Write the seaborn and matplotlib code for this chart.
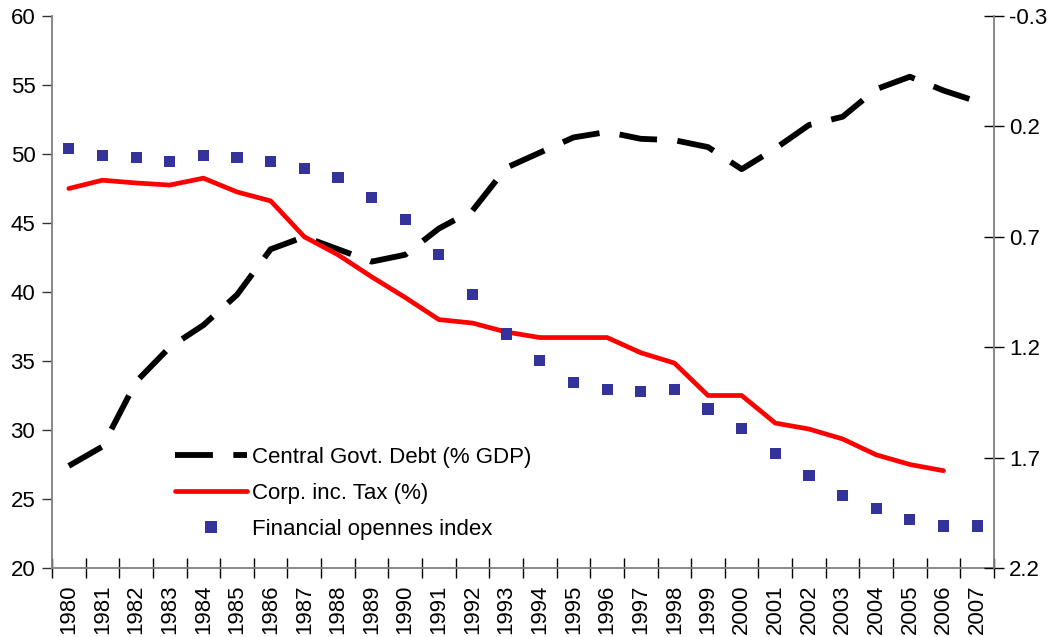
import numpy as np
import pandas as pd
import matplotlib
matplotlib.use("Agg")
import matplotlib.pyplot as plt
import seaborn as sns
from matplotlib.lines import Line2D

years = list(range(1980, 2008))
debt = [27.4, 28.8, 33.5, 36.0, 37.6, 39.8, 43.1, 44.0, 43.1, 42.2, 42.7, 44.6, 45.9,
        49.0, 50.1, 51.2, 51.6, 51.1, 51.0, 50.5, 48.9, 50.4, 52.1, 52.7, 54.7, 55.6,
        54.6, 53.8]
tax = [47.5, 48.1, 47.9, 47.75, 48.25, 47.25, 46.6, 44.0, 42.7, 41.1, 39.6, 38.0, 37.75,
       37.1, 36.7, 36.7, 36.7, 35.6, 34.85, 32.5, 32.5, 30.5, 30.07, 29.35, 28.2, 27.5,
       27.05, np.nan]
openness = [0.30, 0.33, 0.34, 0.36, 0.33, 0.34, 0.36, 0.39, 0.43, 0.52, 0.62, 0.78, 0.96,
            1.14, 1.26, 1.36, 1.39, 1.40, 1.39, 1.48, 1.57, 1.68, 1.78, 1.87, 1.93, 1.98,
            2.01, 2.01]
left_ticks = [20, 25, 30, 35, 40, 45, 50, 55, 60]
right_ticks = [-0.3, 0.2, 0.7, 1.2, 1.7, 2.2]

labels = ["Central Govt. Debt (% GDP)", "Corp. inc. Tax (%)", "Financial opennes index"]

sns.set_style("white")
plt.rcParams['font.family'] = ['Liberation Sans', 'DejaVu Sans']
plt.rcParams['axes.unicode_minus'] = False
plt.rcParams['text.color'] = 'black'

FS = 16

df = pd.DataFrame({"pos": np.arange(len(years)), "year": years, "debt": debt,
                   "tax": tax, "open": openness})

fig = plt.figure(figsize=(10.53, 6.37), dpi=100)
ax = fig.add_axes([52/1053, 1-568/637, (994-52)/1053, (568-16)/637])
ax2 = ax.twinx()

sns.lineplot(data=df, x="pos", y="debt", ax=ax, color="black", lw=4.2)
ax.lines[-1].set_dashes((6.5, 3.5))
sns.lineplot(data=df.dropna(subset=["tax"]), x="pos", y="tax", ax=ax, color="#ff0000", lw=3.4)
ax.lines[-1].set_solid_capstyle("round")
sns.scatterplot(data=df, x="pos", y="open", ax=ax2, marker="s", color="#333399",
                s=64, edgecolor="none", linewidth=0)

ax.set_xlim(-0.5, len(years) - 0.5)
ax.set_ylim(20, 60)
ax2.set_ylim(2.2, -0.3)
ax.set_yticks(left_ticks)
ax.set_yticklabels([str(v) for v in left_ticks])
ax2.set_yticks(right_ticks)
ax2.set_yticklabels([f"{v:.1f}" for v in right_ticks])

ax.set_xticks(np.arange(len(years)))
ax.set_xticklabels([str(y) for y in years], rotation=90)
ax.set_xticks(np.arange(len(years) + 1) - 0.5, minor=True)
ax.tick_params(axis="x", which="major", length=0, pad=12, labelsize=FS, bottom=True,
               labelcolor="black")
ax.tick_params(axis="x", which="minor", direction="inout", length=15, width=1,
               color="black", bottom=True)
ax.tick_params(axis="y", direction="out", length=7, width=1, color="#333333", pad=5,
               labelsize=FS, left=True, labelcolor="black")
ax2.tick_params(axis="y", direction="inout", length=14, width=1, color="black", pad=4,
                labelsize=FS, right=True, labelcolor="black")
ax.set_xlabel("")
ax.set_ylabel("")
ax2.set_ylabel("")
ax2.set_xlabel("")

for a in (ax, ax2):
    a.spines["top"].set_visible(False)
    for s in ("left", "right", "bottom"):
        a.spines[s].set_color("#808080")
        a.spines[s].set_linewidth(1.3)
ax.spines["right"].set_visible(False)
ax2.spines["left"].set_visible(False)
ax2.spines["bottom"].set_visible(False)
ax.grid(False)
ax2.grid(False)

h1 = Line2D([], [], color="black", lw=4.2, dashes=(6.5, 3.5))
h2 = Line2D([], [], color="#ff0000", lw=3.4, solid_capstyle="round")
h3 = Line2D([], [], color="#333399", marker="s", markersize=8, lw=0, markeredgewidth=0)
fig.legend([h1, h2, h3], labels, loc="upper left", bbox_to_anchor=(175/1053, 1-447/637),
           frameon=False, fontsize=FS, handlelength=3.25, handletextpad=0.2,
           labelspacing=0.68, borderpad=0, borderaxespad=0, labelcolor="black")

fig.savefig("out.png", dpi=100)
